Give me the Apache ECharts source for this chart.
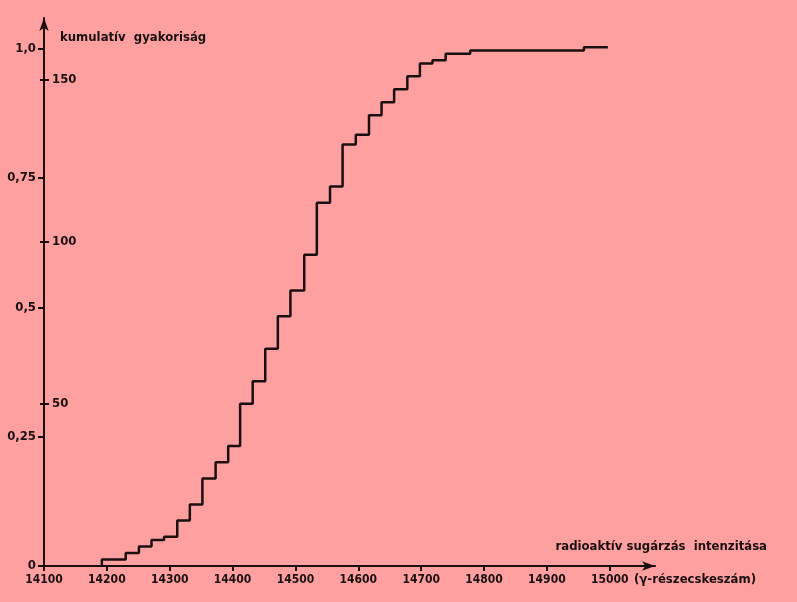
<!DOCTYPE html>
<html><head><meta charset="utf-8">
<script src="https://cdn.jsdelivr.net/npm/echarts@6/dist/echarts.min.js"></script>
<style>html,body{margin:0;padding:0;background:#ffa0a0}#c{width:797px;height:602px}</style>
</head><body><div id="c"></div>
<script>
// step left edges (intensity) and cumulative counts reached at each edge
const stepStarts = [14192,14230,14251,14271,14291,14312,14332,14352,14373,14393,14412,14432,14452,14472,14492,14514,14534,14555,14575,14596,14617,14637,14657,14678,14698,14718,14739,14778,14959];
const stepEnd = 14997;
const cumCounts = [2,4,6,8,9,14,19,27,32,37,50,57,67,77,85,96,112,117,130,133,139,143,147,151,155,156,158,159,160];
const xTicks = [14100,14200,14300,14400,14500,14600,14700,14800,14900,15000];
const countTicks = [50,100,150];
const fracTicks = [0,0.25,0.5,0.75,1.0];
const fracLabels = ['0','0,25','0,5','0,75','1,0'];
const totalN = 159.5;
const countMax = 169;

const pts = [[stepStarts[0], 0]];
for (let i = 0; i < stepStarts.length; i++) {
  pts.push([stepStarts[i], cumCounts[i]]);
  const nx = i + 1 < stepStarts.length ? stepStarts[i + 1] : stepEnd;
  pts.push([nx, cumCounts[i]]);
}

const INK = '#1a0f0f';
const FONT = '"DejaVu Sans Condensed",sans-serif';
const lblX = {color: INK, fontFamily: FONT, fontWeight: 'bold', fontSize: 12};
const lblY = {color: INK, fontFamily: FONT, fontWeight: 'bold', fontSize: 13};

const chart = echarts.init(document.getElementById('c'), null, {renderer: 'canvas'});
chart.setOption({
  backgroundColor: '#ffa0a0',
  animation: false,
  grid: {left: 44, right: 142, top: 18, bottom: 36, containLabel: false},
  xAxis: {
    type: 'value', min: 14100, max: 15072,
    axisLine: {show: true, symbol: ['none', 'arrow'], symbolSize: [7, 13],
      lineStyle: {color: INK, width: 2}},
    axisTick: {show: true, customValues: xTicks, length: 5, lineStyle: {color: INK, width: 2}},
    axisLabel: Object.assign({customValues: xTicks, margin: 8, formatter: v => String(v)}, lblX),
    splitLine: {show: false}
  },
  yAxis: [
    {
      type: 'value', min: 0, max: countMax, position: 'left',
      axisLine: {show: true, symbol: ['none', 'arrow'], symbolSize: [7, 13],
        lineStyle: {color: INK, width: 2}},
      axisTick: {show: true, inside: true, customValues: countTicks, length: 5, lineStyle: {color: INK, width: 2}},
      axisLabel: Object.assign({inside: true, customValues: countTicks, margin: 8, formatter: v => String(v)}, lblY),
      splitLine: {show: false}
    },
    {
      type: 'value', min: 0, max: countMax, position: 'left',
      axisLine: {show: false},
      axisTick: {show: true, customValues: countTicks, length: 4, lineStyle: {color: INK, width: 2}},
      axisLabel: {show: false},
      splitLine: {show: false}
    },
    {
      type: 'value', min: 0, max: countMax / totalN, position: 'left',
      axisLine: {show: false},
      axisTick: {show: true, customValues: fracTicks, length: 6, lineStyle: {color: INK, width: 2}},
      axisLabel: Object.assign({customValues: fracTicks, margin: 8,
        formatter: v => { const i = fracTicks.findIndex(t => Math.abs(t - v) < 1e-6); return i >= 0 ? fracLabels[i] : ''; }}, lblY),
      splitLine: {show: false}
    }
  ],
  series: [{
    type: 'line', data: pts, xAxisIndex: 0, yAxisIndex: 0,
    showSymbol: false, symbol: 'none',
    lineStyle: {color: INK, width: 2.5}
  }],
  graphic: [
    {type: 'text', left: 60, top: 31, style: {text: 'kumulatív  gyakoriság', fill: INK, font: 'bold 13px ' + FONT}},
    {type: 'text', right: 30, top: 540, style: {text: 'radioaktív sugárzás  intenzitása', fill: INK, font: 'bold 13px ' + FONT}},
    {type: 'text', left: 634, top: 573, style: {text: '(γ-részecskeszám)', fill: INK, font: 'bold 13px ' + FONT}}
  ]
});
</script></body></html>
